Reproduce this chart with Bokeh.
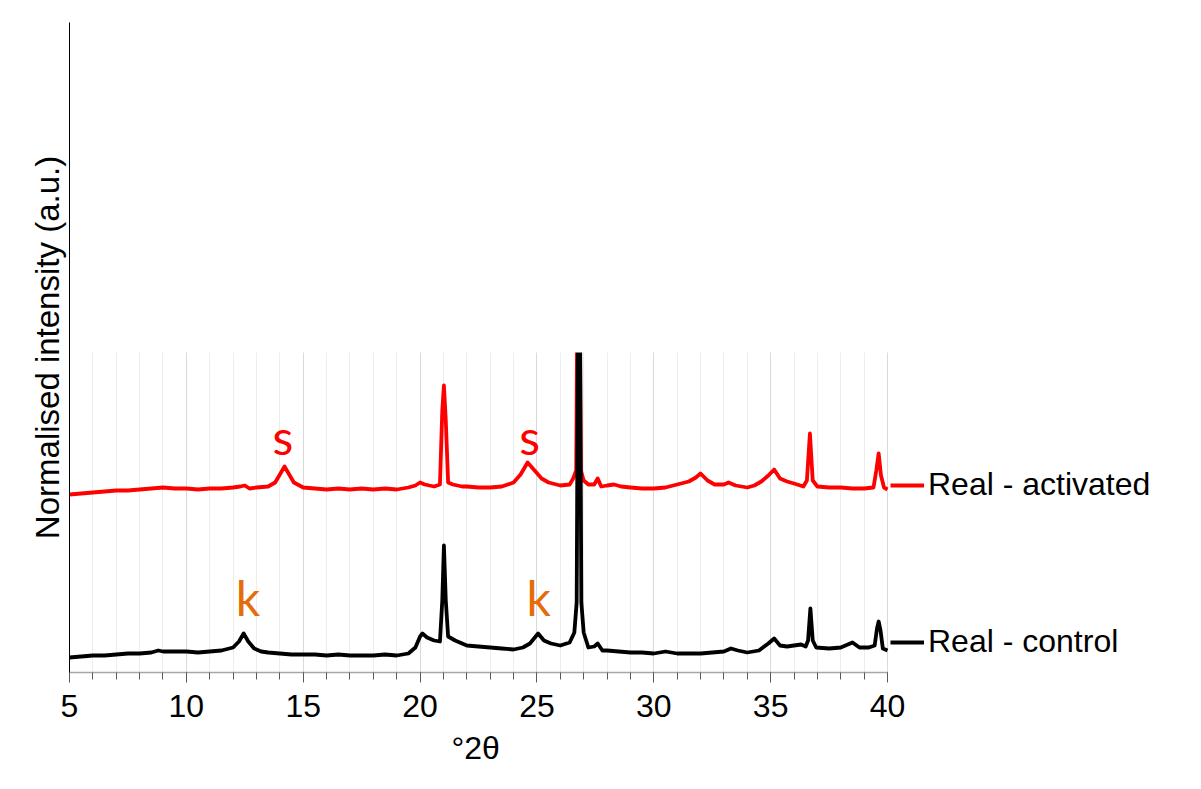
from bokeh.plotting import figure
from bokeh.models import (Range1d, SingleIntervalTicker, FixedTicker, Legend, LegendItem,
                          ColumnDataSource, Title)
from bokeh.core.properties import value
from bokeh.embed import file_html
from bokeh.resources import INLINE

# ---- data ----
two_theta_activated = [5.0, 5.5, 6.0, 6.5, 7.0, 7.5, 8.0, 8.5, 9.0, 9.5, 10.0, 10.5, 11.0, 11.5, 12.0,
                       12.3, 12.5, 12.7, 13.0, 13.5, 13.8, 14.0, 14.2, 14.4, 14.6, 15.0, 15.5, 16.0,
                       16.5, 17.0, 17.5, 18.0, 18.5, 19.0, 19.5, 19.8, 20.0, 20.2, 20.6, 20.85, 20.95,
                       21.02, 21.1, 21.2, 21.4, 21.8, 22.0, 22.5, 23.0, 23.5, 24.0, 24.3, 24.6, 24.9,
                       25.2, 25.5, 26.0, 26.4, 26.55, 26.68, 26.78, 26.88, 27.0, 27.2, 27.45, 27.6,
                       27.75, 28.0, 28.3, 28.6, 29.0, 29.5, 30.0, 30.5, 31.0, 31.5, 31.8, 32.0, 32.3,
                       32.6, 33.0, 33.2, 33.5, 34.0, 34.3, 34.6, 34.9, 35.15, 35.4, 35.7, 36.0, 36.4,
                       36.55, 36.68, 36.8, 37.0, 37.5, 38.0, 38.5, 39.0, 39.4, 39.52, 39.62, 39.72,
                       39.85, 40.0]
intensity_activated = [178, 179, 180, 181, 182, 182, 183, 184, 185, 184, 184, 183, 184, 184, 185,
                       186, 187, 184, 185, 186, 190, 198, 206, 198, 190, 185, 184, 183,
                       184, 183, 184, 183, 184, 183, 185, 187, 190, 188, 186, 188, 262,
                       287, 252, 190, 188, 186, 186, 185, 185, 186, 190, 198, 210, 202,
                       194, 190, 187, 188, 194, 202, 560, 202, 192, 188, 188, 194,
                       186, 187, 188, 186, 185, 184, 184, 185, 188, 191, 195, 199, 192,
                       188, 188, 190, 187, 185, 187, 191, 197, 203, 194, 191, 189, 186,
                       192, 239, 192, 186, 185, 185, 184, 184, 185, 202, 219, 197,
                       185, 183]

two_theta_control = [5.0, 5.5, 6.0, 6.5, 7.0, 7.5, 8.0, 8.5, 8.8, 9.0, 9.5, 10.0, 10.5, 11.0, 11.5,
                     12.0, 12.25, 12.45, 12.65, 12.9, 13.2, 13.5, 14.0, 14.5, 15.0, 15.5, 16.0, 16.5,
                     17.0, 17.5, 18.0, 18.5, 19.0, 19.5, 19.8, 20.0, 20.1, 20.3, 20.6, 20.85, 20.95,
                     21.02, 21.1, 21.2, 21.5, 22.0, 22.5, 23.0, 23.5, 24.0, 24.4, 24.7, 25.05, 25.3,
                     25.6, 26.0, 26.4, 26.6, 26.7, 26.8, 26.9, 27.0, 27.2, 27.45, 27.6, 27.8, 28.0,
                     28.5, 29.0, 29.5, 30.0, 30.5, 31.0, 31.5, 32.0, 32.5, 33.0, 33.3, 33.6, 34.0,
                     34.5, 34.9, 35.15, 35.4, 35.7, 36.0, 36.3, 36.5, 36.6, 36.7, 36.8, 36.95, 37.5,
                     38.0, 38.3, 38.5, 38.8, 39.2, 39.45, 39.55, 39.62, 39.7, 39.8, 40.0]
intensity_control = [15, 16, 17, 17, 18, 19, 19, 20, 22, 21, 21, 21, 20, 21, 22,
                     25, 31, 39, 31, 24, 21, 20, 19, 18, 18, 18, 17, 18,
                     17, 17, 17, 18, 17, 19, 25, 36, 39, 35, 32, 31, 72,
                     127, 72, 36, 32, 27, 26, 25, 24, 23, 25, 29, 39, 32,
                     29, 27, 30, 40, 70, 560, 70, 40, 25, 26, 29, 22, 22,
                     21, 20, 20, 19, 21, 19, 19, 19, 20, 21, 24, 22, 20,
                     22, 29, 34, 27, 26, 27, 28, 26, 32, 64, 32, 25, 24,
                     25, 28, 30, 25, 25, 27, 44, 51, 42, 24, 22]

series_names = ["Real - activated", "Real - control"]
peak_labels = ["s", "s", "k", "k"]
peak_label_x = [14.13, 24.69, 12.63, 25.07]
peak_label_y = [236, 236, 75, 75]
peak_label_colors = ["#ff0000", "#ff0000", "#e46c0a", "#e46c0a"]

FONT = "Liberation Sans"
X_END = 53.22  # room on the right for the series labels

p = figure(width=1201, height=789, output_backend="svg", toolbar_location=None,
           x_range=Range1d(5, X_END), y_range=Range1d(0, 650),
           min_border_left=69, min_border_right=5, min_border_top=22, min_border_bottom=117)
p.outline_line_color = None
p.background_fill_color = "white"
p.border_fill_color = "white"

# x axis
p.xaxis.ticker = SingleIntervalTicker(interval=5, num_minor_ticks=5)
p.xaxis.bounds = (5, 40)
p.xaxis.axis_line_color = "#a6a6a6"
p.xaxis.axis_line_width = 1.5
p.xaxis.major_tick_line_color = "#595959"
p.xaxis.minor_tick_line_color = "#595959"
p.xaxis.major_tick_in = 0
p.xaxis.major_tick_out = 10
p.xaxis.minor_tick_in = 0
p.xaxis.minor_tick_out = 7
p.xaxis.major_label_text_font = FONT
p.xaxis.major_label_text_font_size = "32px"
p.xaxis.major_label_text_color = "black"
p.xaxis.major_label_standoff = 12

x_title = Title(text="°2θ", align="left", offset=382, text_font=FONT, text_font_size="32px",
                text_font_style="normal", text_color="black", standoff=16)
p.add_layout(x_title, "below")

# y axis
p.yaxis.ticker = FixedTicker(ticks=[])
p.yaxis.major_label_text_font_size = "0px"
p.yaxis.major_tick_line_color = None
p.yaxis.minor_tick_line_color = None
p.yaxis.axis_line_color = "black"
p.yaxis.axis_line_width = 1
p.yaxis.axis_label = "Normalised intensity (a.u.)"
p.yaxis.axis_label_text_font = FONT
p.yaxis.axis_label_text_font_size = "33px"
p.yaxis.axis_label_text_font_style = "normal"
p.yaxis.axis_label_text_color = "black"
p.yaxis.axis_label_standoff = 4

# grid
p.ygrid.grid_line_color = None
p.xgrid.bounds = (5, 40)
p.xgrid.grid_line_color = "#d9d9d9"
p.xgrid.minor_grid_line_color = "#ededed"
p.xgrid.grid_line_width = 1
p.xgrid.minor_grid_line_width = 1

# series
r_act = p.line(two_theta_activated, intensity_activated, line_color="#ff0000", line_width=3.8,
               line_join="round")
r_ctl = p.line(two_theta_control, intensity_control, line_color="black", line_width=3.8,
               line_join="round")

# white region that hides the upper part of the chart (as in the picture)
p.quad(left=[4.5], right=[40.6], bottom=[320], top=[2000], fill_color="white", line_color=None)

# peak markers
src = ColumnDataSource(dict(x=peak_label_x, y=peak_label_y, t=peak_labels, c=peak_label_colors))
p.text(x="x", y="y", text="t", text_color="c", source=src, text_font=value("Lato"),
       text_font_size="48px", text_align="center", text_baseline="alphabetic")

# series labels at the right end (legend-like)
for name, rend, top in [(series_names[0], r_act, 169), (series_names[1], r_ctl, 12)]:
    lg = Legend(items=[LegendItem(label=name, renderers=[rend])], location=(821, top),
                label_text_font=FONT, label_text_font_size="32px", label_text_color="black",
                glyph_width=34, glyph_height=36, label_standoff=4, padding=0, margin=0,
                spacing=0, background_fill_alpha=0, border_line_alpha=0,
                label_height=36)
    p.add_layout(lg, "center")

open("out.html", "w").write(file_html(p, INLINE))
